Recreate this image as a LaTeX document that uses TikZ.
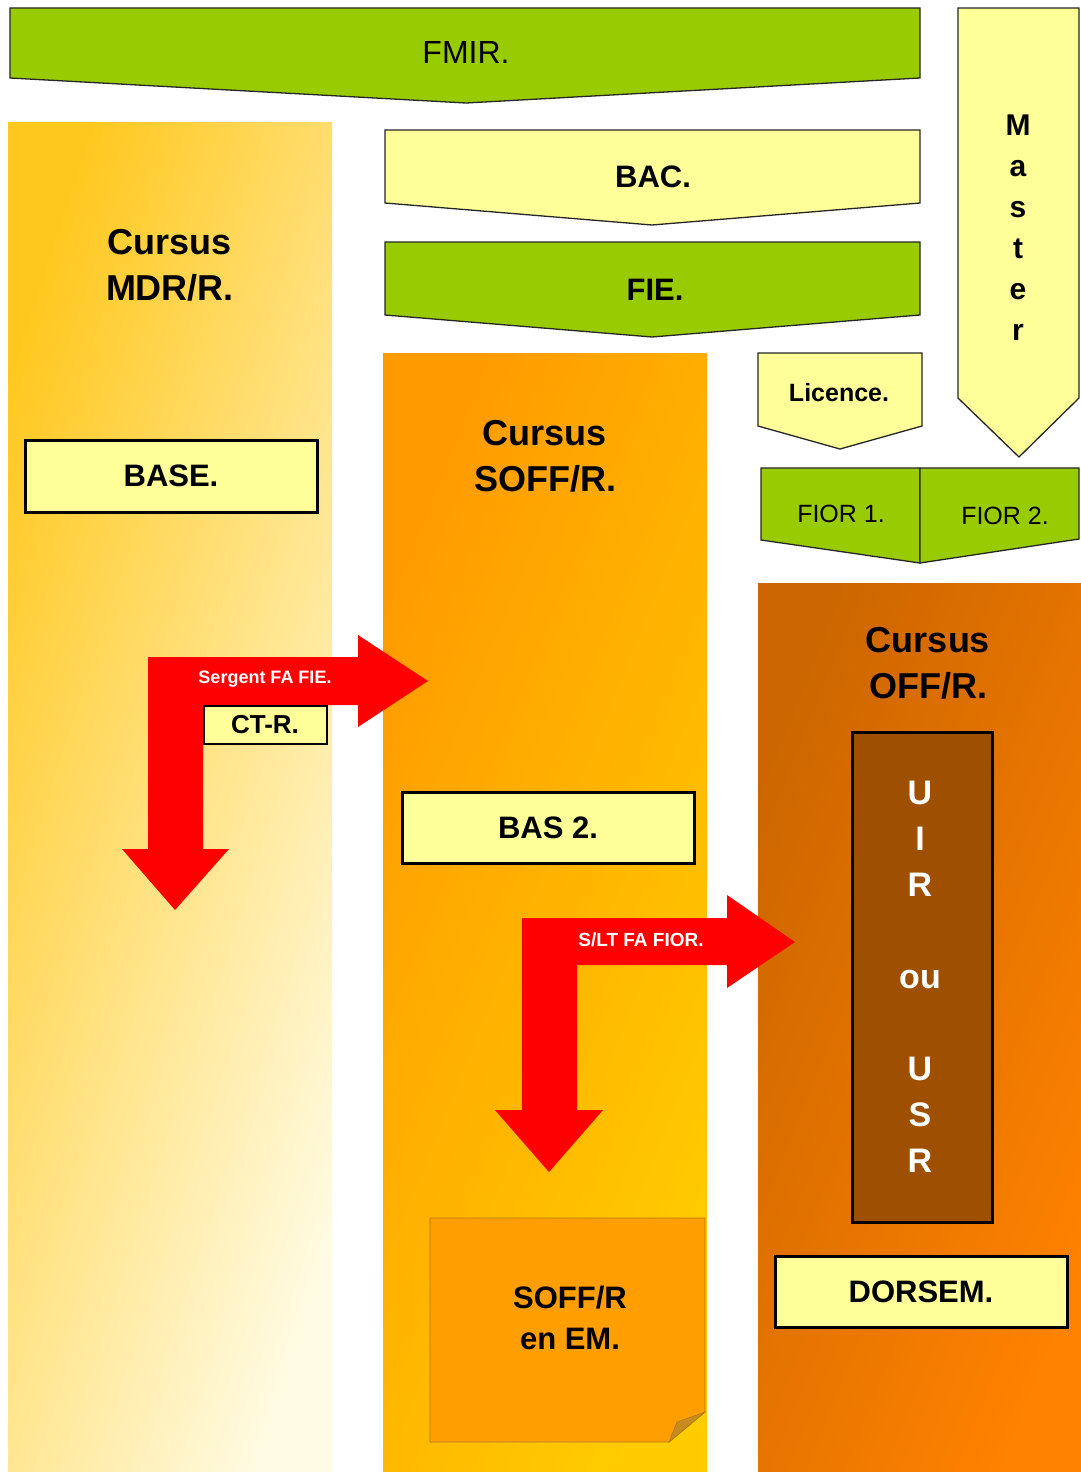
\documentclass[tikz,border=0pt]{standalone}
\usepackage{fontspec}
\setmainfont{Liberation Sans}
\definecolor{leaf}{HTML}{99CC00}
\definecolor{paleY}{HTML}{FFFF99}
\definecolor{mdrA}{HTML}{FFC81E}
\definecolor{mdrB}{HTML}{FFFBE2}
\definecolor{soffA}{HTML}{FF9A00}
\definecolor{soffB}{HTML}{FFCC00}
\definecolor{offA}{HTML}{CC6600}
\definecolor{offB}{HTML}{FF8200}
\definecolor{brownbox}{HTML}{9E5000}
\definecolor{noteC}{HTML}{FF9E00}
\definecolor{noteE}{HTML}{B07A10}
\definecolor{foldC}{HTML}{C98A1E}
\begin{document}
\begin{tikzpicture}[x=1pt,y=-1pt,
  chev/.style={draw=black!85, line width=1.3pt, line join=miter},
  boxy/.style={draw=black, line width=3pt, fill=paleY},
  bigtxt/.style={font=\bfseries\fontsize{36}{46}\selectfont, align=center, inner sep=0pt},
  boxtxt/.style={font=\bfseries\fontsize{31}{41}\selectfont, align=center, inner sep=0pt},
  regtxt/.style={font=\fontsize{32}{36}\selectfont, inner sep=0pt},
  smalltxt/.style={font=\fontsize{25}{28}\selectfont, inner sep=0pt},
  arrtxt/.style={font=\bfseries\fontsize{18}{20}\selectfont, text=white, inner sep=0pt},
  redarrow/.style={fill=red, draw=none}
]
\useasboundingbox (0,0) rectangle (1081,1472);
% ---------- columns
\path[shade, top color=mdrA, bottom color=mdrB, shading angle=72] (8,122) rectangle (332,1472);
\path[shade, top color=soffA, bottom color=soffB, shading angle=68] (383,353) rectangle (707,1472);
\path[shade, top color=offA, bottom color=offB, shading angle=68] (758,583) rectangle (1081,1472);
% ---------- chevrons
\draw[chev, fill=leaf] (10,8) -- (920,8) -- (920,78) -- (466,103) -- (10,78) -- cycle;
\node[regtxt] (fmir) at (466,52) {FMIR.};
\draw[chev, fill=paleY] (958,8) -- (1079,8) -- (1079,398) -- (1019,457) -- (958,398) -- cycle;
\node[font=\bfseries\fontsize{30}{41}\selectfont, align=center, inner sep=0pt] (master) at (1018,228) {M\\a\\s\\t\\e\\r};
\draw[chev, fill=paleY] (385,130) -- (920,130) -- (920,203) -- (652,225) -- (385,203) -- cycle;
\node[boxtxt] (bac) at (653,177) {BAC.};
\draw[chev, fill=leaf] (385,242) -- (920,242) -- (920,315) -- (652,337) -- (385,315) -- cycle;
\node[boxtxt] (fie) at (655,290) {FIE.};
\draw[chev, fill=paleY] (758,353) -- (922,353) -- (922,426) -- (840,449) -- (758,426) -- cycle;
\node[font=\bfseries\fontsize{25}{28}\selectfont, inner sep=0pt] (licence) at (839,393) {Licence.};
\draw[chev, fill=leaf] (761,468) -- (920,468) -- (920,563) -- (761,540) -- cycle;
\draw[chev, fill=leaf] (920,468) -- (1079,468) -- (1079,539) -- (920,563) -- cycle;
\node[smalltxt] (fior1) at (841,514) {FIOR 1.};
\node[smalltxt] (fior2) at (1005,516) {FIOR 2.};
% ---------- left column content
\node[bigtxt] (mdr) at (170,265) {Cursus\\MDR/R.};
\node[boxy, minimum width=292pt, minimum height=72pt] (base) at (171,476) {};
\node[boxtxt] (basetxt) at (base.center) {BASE.};
% ---------- middle column content
\node[bigtxt] (soff) at (545,456) {Cursus\\SOFF/R.};
\node[boxy, minimum width=292pt, minimum height=71pt] (bas2) at (548,828) {};
\node[boxtxt] (bas2txt) at (bas2.center) {BAS 2.};
\draw[draw=noteE, line width=0.8pt, fill=noteC] (430,1218) -- (705,1218) -- (705,1412) -- (669,1442) -- (430,1442) -- cycle;
\draw[draw=noteE, line width=0.6pt, fill=foldC] (705,1412) -- (677,1422) -- (669,1442) -- cycle;
\node[font=\bfseries\fontsize{31}{41}\selectfont, align=center, inner sep=0pt] (em) at (570,1318) {SOFF/R\\en EM.};
% ---------- right column content
\node[bigtxt] (off) at (928,663) {Cursus\\OFF/R.};
\node[draw=black, line width=3pt, fill=brownbox, minimum width=140pt, minimum height=490pt] (uir) at (922,977) {};
\node[font=\bfseries\fontsize{34}{46}\selectfont, text=white, align=center, inner sep=0pt] (uirtxt) at (920,977) {U\\I\\R\\[46pt]ou\\[46pt]U\\S\\R};
\node[boxy, minimum width=292pt, minimum height=71pt] (dorsem) at (921,1292) {};
\node[boxtxt] (dorsemtxt) at (dorsem.center) {DORSEM.};
% ---------- red arrows
\fill[redarrow] (148,657) -- (358,657) -- (358,635) -- (428,681) -- (358,727) -- (358,705) -- (203,705) -- (203,849) -- (229,849) -- (175,910) -- (122,849) -- (148,849) -- cycle;
\node[arrtxt] (sergent) at (265,679) {Sergent FA FIE.};
\node[draw=black, line width=2pt, fill=paleY, minimum width=123pt, minimum height=38pt] (ctr) at (265,725) {};
\node[font=\bfseries\fontsize{26}{30}\selectfont, inner sep=0pt] (ctrtxt) at (ctr.center) {CT-R.};
\fill[redarrow] (522,918) -- (727,918) -- (727,895) -- (795,942) -- (727,988) -- (727,965) -- (577,965) -- (577,1110) -- (603,1110) -- (549,1172) -- (495,1110) -- (522,1110) -- cycle;
\node[arrtxt, font=\bfseries\fontsize{19}{21}\selectfont] (slt) at (641,940) {S/LT FA FIOR.};
\end{tikzpicture}
\end{document}
